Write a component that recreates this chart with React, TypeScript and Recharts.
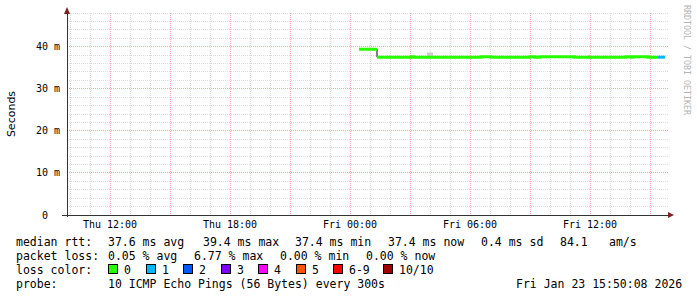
import React from "react";
import {
  ComposedChart,
  Line,
  Area,
  XAxis,
  YAxis,
  CartesianGrid,
  ReferenceLine,
  ReferenceDot,
} from "recharts";

// ---------- data ----------
// time is hours since Thu 00:00
const xTickValues = [12, 18, 24, 30, 36];
const xTickLabels = ["Thu 12:00", "Thu 18:00", "Fri 00:00", "Fri 06:00", "Fri 12:00"];
const yTickValues = [0, 10, 20, 30, 40];
const yTickLabels = ["0\u00a0\u00a0", "10 m", "20 m", "30 m", "40 m"];

// median rtt (ms) as steps: segment i runs from segmentTimes[i] to segmentTimes[i+1]
const segmentTimes = [24.45, 25.35, 27.05, 27.2, 30.55, 31.05, 33.0, 33.25, 33.5, 35.25, 37.8, 38.05, 38.15, 38.9, 39.4, 39.75];
const segmentMedians = [39.4, 37.5, 37.6, 37.5, 37.6, 37.5, 37.6, 37.5, 37.6, 37.5, 37.6, 37.5, 37.6, 37.5, 37.5];
const segmentLoss = [0, 0, 0, 0, 0, 0, 0, 0, 0, 0, 0, 0, 0, 0, 1];

// smoke spikes (ms)
const smokeStart = [25.8, 27.85, 31.55, 34.55, 35.9];
const smokeEnd = [25.9, 28.15, 31.7, 34.7, 36.0];
const smokeLow = [37.4, 37.3, 37.4, 37.4, 37.4];
const smokeHigh = [37.9, 38.6, 37.9, 37.9, 38.0];

const lossColors = ["#26ff00", "#00b8ff", "#0059ff", "#7e00ff", "#ff00ff", "#ff5500", "#ff0000", "#a10000"];
const lossColorLabels = ["0", "1", "2", "3", "4", "5", "6-9", "10/10"];

const rttHeading = "median rtt:";
const rttStats = ["37.6 ms avg", "39.4 ms max", "37.4 ms min", "37.4 ms now", "0.4 ms sd", "84.1", "am/s"];
const lossHeading = "packet loss:";
const lossStats = ["0.05 % avg", "6.77 % max", "0.00 % min", "0.00 % now"];
const lossColorHeading = "loss color:";
const probeHeading = "probe:";
const probeText = "10 ICMP Echo Pings (56 Bytes) every 300s";
const dateText = "Fri Jan 23 15:50:08 2026";
const watermark = "RRDTOOL / TOBI OETIKER";
const yTitle = "Seconds";

// ---------- layout ----------
const W = 697;
const H = 297;
const xMin = 9.85;
const xMax = 39.95;
const yMin = 0;
const yMax = 48;
const rttX = [108, 203, 295, 388, 481, 560, 609];
const lossX = [108, 194, 280, 366];
const boxX = [108, 146, 183, 221, 258, 296, 333, 383];
const lineY = [245.5, 259.5, 273.5, 287.5];
const MONO = "'DejaVu Sans Mono', monospace";

// ---------- derived tables ----------
const blackData = segmentTimes.map((t, i) => ({
  t,
  v: segmentMedians[Math.min(i, segmentMedians.length - 1)],
}));

const lineData: any[] = [];
for (let i = 0; i < segmentMedians.length; i++) {
  const key = `l${segmentLoss[i]}`;
  if (
    i > 0 &&
    (segmentLoss[i] !== segmentLoss[i - 1] ||
      Math.abs(segmentMedians[i] - segmentMedians[i - 1]) > 0.5)
  ) {
    lineData.push({ t: segmentTimes[i] });
  }
  lineData.push({ t: segmentTimes[i], [key]: segmentMedians[i] });
  lineData.push({ t: segmentTimes[i + 1], [key]: segmentMedians[i] });
}

const smokeData: any[] = [];
smokeStart.forEach((s, i) => {
  smokeData.push({ t: s, r: [smokeLow[i], smokeHigh[i]] });
  smokeData.push({ t: smokeEnd[i], r: [smokeLow[i], smokeHigh[i]] });
  smokeData.push({ t: smokeEnd[i] });
});

const hours: number[] = [];
for (let h = Math.ceil(xMin); h <= Math.floor(xMax); h++) hours.push(h);
const majorX = hours.filter((h) => h % 3 === 0);
const minorX = hours.filter((h) => h % 3 !== 0);
const levels: number[] = [];
for (let v = 2; v <= yMax; v += 2) levels.push(v);
const majorY = levels.filter((v) => v % 10 === 0);
const minorY = levels.filter((v) => v % 10 !== 0);

const xArrow = (p: any) => (
  <path
    d={`M${p.cx - 1},${p.cy - 3} L${p.cx + 5},${p.cy} L${p.cx - 1},${p.cy + 3} Z`}
    fill="#7f1f1f"
  />
);
const yArrow = (p: any) => (
  <path
    d={`M${p.cx - 3},${p.cy + 1} L${p.cx},${p.cy - 6} L${p.cx + 3},${p.cy + 1} Z`}
    fill="#7f1f1f"
  />
);

export default function App() {
  return (
    <div style={{ position: "relative", width: W, height: H, background: "#fff" }}>
      <style>{`
        body { margin: 0; }
        .recharts-cartesian-grid line, .recharts-reference-line line { shape-rendering: crispEdges; }
      `}</style>
      <ComposedChart
        width={W}
        height={H}
        margin={{ top: 13, right: 28, left: 7, bottom: 52 }}
      >
        <CartesianGrid
          horizontalValues={minorY}
          verticalValues={minorX}
          stroke="#dcdcdc"
          strokeDasharray="1 1"
        />
        <CartesianGrid
          horizontalValues={majorY}
          verticalValues={majorX}
          stroke="#f0a8a8"
          strokeDasharray="1 1"
        />
        <XAxis
          dataKey="t"
          type="number"
          domain={[xMin, xMax]}
          allowDataOverflow
          ticks={xTickValues}
          interval={0}
          tickFormatter={(v: number) => xTickLabels[xTickValues.indexOf(v)] ?? ""}
          height={30}
          tickSize={0}
          tickMargin={6}
          axisLine={false}
          tickLine={false}
          tick={{ fontFamily: MONO, fontSize: 10, fill: "#000" }}
        />
        <YAxis
          type="number"
          domain={[yMin, yMax]}
          allowDataOverflow
          ticks={yTickValues}
          interval={0}
          tickFormatter={(v: number) => yTickLabels[yTickValues.indexOf(v)] ?? ""}
          width={60}
          tickSize={0}
          tickMargin={7}
          axisLine={false}
          tickLine={false}
          tick={{ fontFamily: MONO, fontSize: 10, fill: "#000" }}
        />
        <Area
          data={smokeData}
          dataKey="r"
          type="linear"
          stroke="none"
          fill="#cccccc"
          fillOpacity={1}
          isAnimationActive={false}
          connectNulls={false}
          dot={false}
          activeDot={false}
        />
        <Line
          data={blackData}
          dataKey="v"
          type="stepAfter"
          stroke="#000"
          strokeWidth={1}
          dot={false}
          activeDot={false}
          isAnimationActive={false}
        />
        {lossColors.map((c, i) => (
          <Line
            key={i}
            data={lineData}
            dataKey={`l${i}`}
            type="linear"
            stroke={c}
            strokeWidth={3}
            strokeLinecap="butt"
            dot={false}
            activeDot={false}
            connectNulls={false}
            isAnimationActive={false}
          />
        ))}
        <ReferenceLine
          segment={[
            { x: xMin - 0.25, y: 0 },
            { x: xMax, y: 0 },
          ]}
          stroke="#333"
          ifOverflow="visible"
        />
        <ReferenceLine
          segment={[
            { x: xMin, y: -0.5 },
            { x: xMin, y: yMax },
          ]}
          stroke="#333"
          ifOverflow="visible"
        />
        <ReferenceDot x={xMax} y={0} ifOverflow="visible" shape={xArrow} />
        <ReferenceDot x={xMin} y={yMax} ifOverflow="visible" shape={yArrow} />
      </ComposedChart>
      <svg
        width={W}
        height={H}
        style={{ position: "absolute", left: 0, top: 0, pointerEvents: "none" }}
      >
        <text
          transform="translate(15,114) rotate(-90)"
          textAnchor="middle"
          fontFamily="'DejaVu Sans', sans-serif"
          fontSize={11}
          fill="#000"
        >
          {yTitle}
        </text>
        <text
          transform="translate(684,5) rotate(90)"
          fontFamily={MONO}
          fontSize={8.3}
          fill="#b4b4b4"
        >
          {watermark}
        </text>
        <g fontFamily={MONO} fontSize={11.5} fill="#000">
          <text x={16} y={lineY[0]}>{rttHeading}</text>
          {rttStats.map((s, i) => (
            <text key={i} x={rttX[i]} y={lineY[0]}>{s}</text>
          ))}
          <text x={16} y={lineY[1]}>{lossHeading}</text>
          {lossStats.map((s, i) => (
            <text key={i} x={lossX[i]} y={lineY[1]}>{s}</text>
          ))}
          <text x={16} y={lineY[2]}>{lossColorHeading}</text>
          {lossColors.map((c, i) => (
            <g key={i}>
              <rect
                x={boxX[i] + 0.5}
                y={lineY[2] - 9}
                width={9}
                height={9}
                fill={c}
                stroke="#000"
                strokeWidth={1}
              />
              <text x={boxX[i] + 16} y={lineY[2]}>{lossColorLabels[i]}</text>
            </g>
          ))}
          <text x={16} y={lineY[3]}>{probeHeading}</text>
          <text x={108} y={lineY[3]}>{probeText}</text>
          <text x={516} y={lineY[3]}>{dateText}</text>
        </g>
      </svg>
    </div>
  );
}
